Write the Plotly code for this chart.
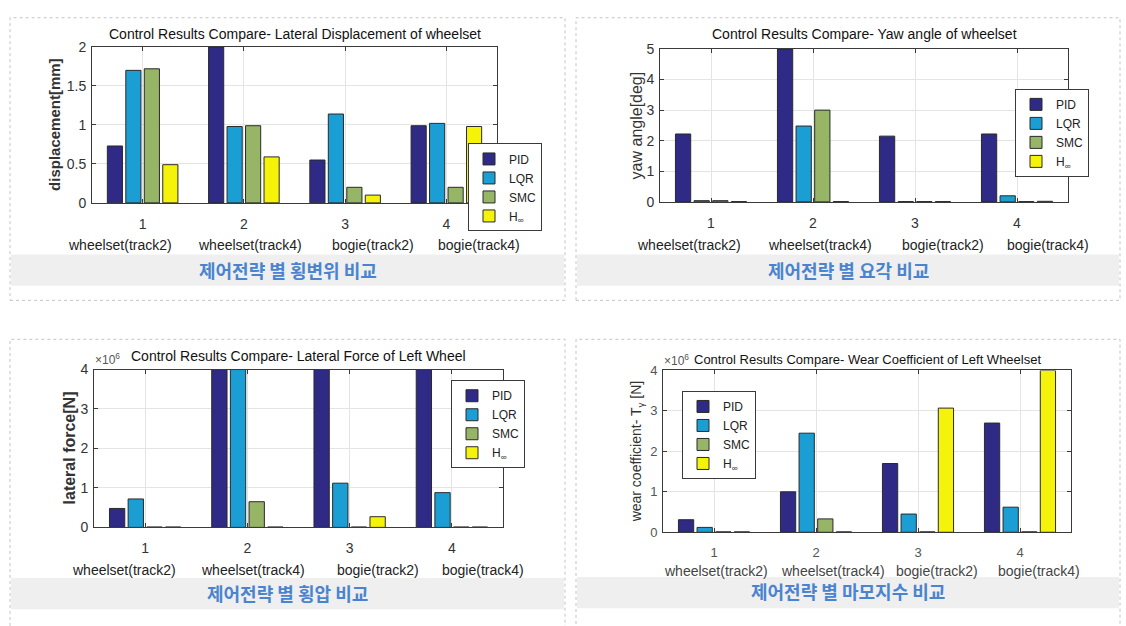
import plotly.graph_objects as go

W, H = 1126, 626

# ---- data -------------------------------------------------------------
categories = [1, 2, 3, 4]
category_names = ["wheelset(track2)", "wheelset(track4)", "bogie(track2)", "bogie(track4)"]
controllers = ["PID", "LQR", "SMC", "H<sub>∞</sub>"]
colors = ["#2E2A86", "#1B9ED4", "#96B566", "#F6F30A"]

# lateral displacement of wheelset [mm]
disp_pid = [0.73, 2.0, 0.55, 0.99]
disp_lqr = [1.70, 0.98, 1.14, 1.02]
disp_smc = [1.72, 0.99, 0.20, 0.20]
disp_hinf = [0.49, 0.59, 0.10, 0.98]

# yaw angle of wheelset [deg]
yaw_pid = [2.22, 5.0, 2.15, 2.22]
yaw_lqr = [0.04, 2.48, 0.01, 0.20]
yaw_smc = [0.04, 3.00, 0.01, 0.01]
yaw_hinf = [0.01, 0.01, 0.01, 0.02]

# lateral force of left wheel [x10^6 N]
force_pid = [0.48, 4.0, 4.0, 4.0]
force_lqr = [0.72, 4.0, 1.12, 0.88]
force_smc = [0.01, 0.65, 0.01, 0.01]
force_hinf = [0.01, 0.01, 0.27, 0.01]

# wear coefficient of left wheelset [x10^6 N]
wear_pid = [0.31, 1.00, 1.70, 2.70]
wear_lqr = [0.12, 2.45, 0.45, 0.62]
wear_smc = [0.01, 0.33, 0.01, 0.01]
wear_hinf = [0.01, 0.01, 3.07, 4.0]

disp_ticks = [0, 0.5, 1, 1.5, 2]
yaw_ticks = [0, 1, 2, 3, 4, 5]
force_ticks = [0, 1, 2, 3, 4]
wear_ticks = [0, 1, 2, 3, 4]


def px(x):
    return x / W


def py(y):
    return 1 - y / H


FONT = "Liberation Sans, Arial, sans-serif"
KFONT = "Noto Sans CJK KR, sans-serif"

panels = [
    dict(series=[disp_pid, disp_lqr, disp_smc, disp_hinf], ticks=disp_ticks,
         xdom=(92, 497), ydom=(40, 200),
         title="Control Results Compare- Lateral Displacement of wheelset", title_y=27, title_size=14,
         ytitle="<b>displacement[mm]</b>", ytitle_x=55, ytitle_size=15,
         tick_size=14, tick_color="#333333",
         legend=(468, 139), catlab_y=243, catlab_dx=[28, 158, 281, 387],
         catlab_size=14, catlab_color="#222222",
         card=(10, 10, 565, 300), band=(253, 285),
         caption="제어전략 별 횡변위 비교", caption_y=269, expo=False),
    dict(series=[yaw_pid, yaw_lqr, yaw_smc, yaw_hinf], ticks=yaw_ticks,
         xdom=(660, 1068), ydom=(42, 199),
         title="Control Results Compare- Yaw angle of wheelset", title_y=27, title_size=14,
         ytitle="yaw angle[deg]", ytitle_x=636, ytitle_size=16,
         tick_size=14, tick_color="#333333",
         legend=(1015, 83), catlab_y=243, catlab_dx=[29, 160, 283, 388],
         catlab_size=14, catlab_color="#222222",
         card=(576, 10, 1120, 300), band=(253, 285),
         caption="제어전략 별 요각 비교", caption_y=269, expo=False),
    dict(series=[force_pid, force_lqr, force_smc, force_hinf], ticks=force_ticks,
         xdom=(94, 503), ydom=(371, 533),
         title="Control Results Compare- Lateral Force of Left Wheel", title_y=357, title_size=14,
         ytitle="<b>lateral force[N]</b>", ytitle_x=69, ytitle_size=16,
         tick_size=14, tick_color="#333333",
         legend=(451, 382), catlab_y=577, catlab_dx=[30, 159, 284, 389],
         catlab_size=14, catlab_color="#222222",
         card=(10, 340, 565, 640), band=(585, 617),
         caption="제어전략 별 횡압 비교", caption_y=600, expo=True),
    dict(series=[wear_pid, wear_lqr, wear_smc, wear_hinf], ticks=wear_ticks,
         xdom=(663, 1071), ydom=(372, 538),
         title="Control Results Compare- Wear Coefficient of Left Wheelset", title_y=361, title_size=13,
         ytitle="wear coefficient- T<sub>γ</sub> [N]", ytitle_x=637, ytitle_size=14,
         tick_size=13, tick_color="#555555",
         legend=(682, 393), catlab_y=578, catlab_dx=[53, 170, 274, 376],
         catlab_size=14, catlab_color="#444444",
         card=(576, 340, 1120, 640), band=(584, 616),
         caption="제어전략 별 마모지수 비교", caption_y=598, expo=True),
]

fig = go.Figure()
shapes = []
annotations = []
layout = {}

for i, p in enumerate(panels, start=1):
    sfx = "" if i == 1 else str(i)
    legend_name = "legend" + sfx
    for name, vals, col in zip(controllers, p["series"], colors):
        fig.add_trace(go.Bar(
            x=categories, y=vals, name=name,
            marker=dict(color=col, line=dict(color="#2a2a2a", width=1)),
            xaxis="x" + sfx, yaxis="y" + sfx, legend=legend_name,
        ))

    axis_common = dict(
        showline=True, linecolor="#3a3a3a", linewidth=1, mirror="allticks",
        ticks="inside", ticklen=4, tickcolor="#3a3a3a",
        showgrid=True, gridcolor="#E4E4E4", gridwidth=1, zeroline=False,
        tickfont=dict(family=FONT, size=p["tick_size"], color=p["tick_color"]),
    )
    layout["xaxis" + sfx] = dict(
        axis_common, domain=[px(p["xdom"][0]), px(p["xdom"][1])],
        anchor="y" + sfx, range=[0.5, 4.5], tickvals=categories,
        ticktext=[str(c) for c in categories], ticklabelstandoff=8,
    )
    layout["yaxis" + sfx] = dict(
        axis_common, domain=[py(p["ydom"][1]), py(p["ydom"][0])],
        anchor="x" + sfx, range=[0, p["ticks"][-1]], tickvals=p["ticks"],
        ticktext=[f"{t:g}" for t in p["ticks"]], ticklabelstandoff=2,
    )
    layout[legend_name] = dict(
        x=px(p["legend"][0]), y=py(p["legend"][1]), xanchor="left", yanchor="top",
        xref="paper", yref="paper",
        bgcolor="white", bordercolor="#3a3a3a", borderwidth=1,
        font=dict(family=FONT, size=12, color="#222222"), tracegroupgap=0,
    )

    xc = (p["xdom"][0] + p["xdom"][1]) / 2
    # card and caption band
    c = p["card"]
    shapes.append(dict(type="rect", xref="paper", yref="paper", layer="below",
                       x0=px(c[0]), x1=px(c[2]), y0=py(c[3]), y1=py(c[1]),
                       line=dict(color="#C4C4C4", width=1, dash="dot"), fillcolor="white"))
    shapes.append(dict(type="rect", xref="paper", yref="paper", layer="below",
                       x0=px(c[0] + 1), x1=px(c[2] - 1), y0=py(p["band"][1]), y1=py(p["band"][0]),
                       line=dict(width=0), fillcolor="#EFEFEF"))
    # chart title
    annotations.append(dict(text=p["title"], x=px(xc), y=py(p["title_y"]), xref="paper", yref="paper",
                            showarrow=False, xanchor="center", yanchor="middle",
                            font=dict(family=FONT, size=p["title_size"], color="#111111")))
    # y-axis title
    annotations.append(dict(text=p["ytitle"], x=px(p["ytitle_x"]),
                            y=py((p["ydom"][0] + p["ydom"][1]) / 2), xref="paper", yref="paper",
                            showarrow=False, textangle=-90, xanchor="center", yanchor="middle",
                            font=dict(family=FONT, size=p["ytitle_size"], color="#333333")))
    # category names on a line under the tick numbers
    for dx, lab in zip(p["catlab_dx"], category_names):
        annotations.append(dict(text=lab, x=px(p["xdom"][0] + dx), xref="paper",
                                y=py(p["catlab_y"]), yref="paper",
                                showarrow=False, xanchor="center", yanchor="middle",
                                font=dict(family=FONT, size=p["catlab_size"], color=p["catlab_color"])))
    # caption
    annotations.append(dict(text="<b>" + p["caption"] + "</b>", x=px((c[0] + c[2]) / 2), y=py(p["caption_y"]),
                            xref="paper", yref="paper", showarrow=False,
                            xanchor="center", yanchor="middle",
                            font=dict(family=KFONT, size=18, color="#4A84CF")))
    if p["expo"]:
        annotations.append(dict(text="×10<sup>6</sup>", x=px(p["xdom"][0] - 1), y=py(p["ydom"][0] - 1),
                                xref="paper", yref="paper", showarrow=False,
                                xanchor="left", yanchor="bottom",
                                font=dict(family=FONT, size=12, color="#555555")))

fig.update_layout(
    width=W, height=H, margin=dict(l=0, r=0, t=0, b=0),
    paper_bgcolor="white", plot_bgcolor="white",
    barmode="group", bargap=0.27, bargroupgap=0.18,
    shapes=shapes, annotations=annotations, **layout,
)

fig.write_html("out.html")
